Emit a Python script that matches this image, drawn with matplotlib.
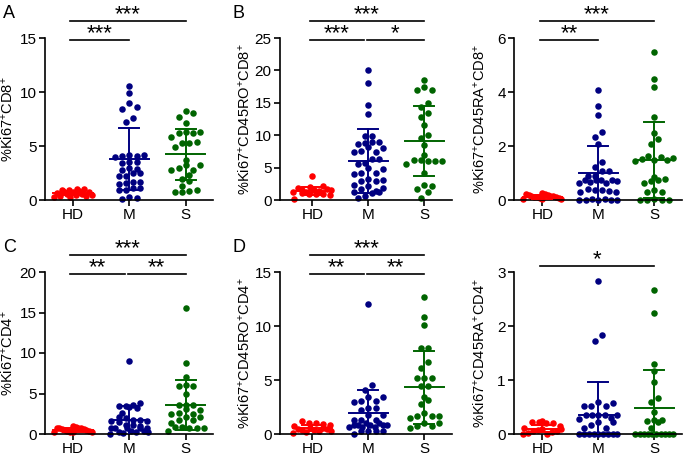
import numpy as np
import matplotlib
matplotlib.use("Agg")
from matplotlib import pyplot as plt

plt.rcParams['font.family'] = ['Liberation Sans', 'DejaVu Sans']
plt.rcParams['mathtext.fontset'] = 'custom'
plt.rcParams['mathtext.rm'] = 'Liberation Sans'
plt.rcParams['mathtext.default'] = 'regular'

groups = ['HD', 'M', 'S']
colors = ['#ff0000', '#000080', '#006400']

# panel A: %Ki67+CD8+
hd_a = [1.0, 1.0, 0.9, 0.9, 0.8, 0.8, 0.7, 0.7, 0.65, 0.6, 0.6, 0.5, 0.5, 0.4, 0.4, 0.3, 0.25]
m_a = [10.6, 9.9, 8.95, 8.6, 8.4, 7.6, 7.2, 4.2, 4.2, 4.1, 4.1, 4.0, 3.5, 3.5, 3.4, 3.0, 2.9,
       2.8, 2.5, 2.5, 2.2, 2.2, 1.7, 1.7, 1.6, 1.5, 1.1, 1.1, 0.9, 0.9, 0.3, 0.2, 0.1]
s_a = [8.2, 8.1, 7.7, 7.1, 6.3, 6.3, 6.2, 6.2, 5.8, 5.4, 5.3, 5.3, 4.9, 3.7, 3.2, 3.2, 3.0,
       2.8, 2.8, 2.3, 1.9, 1.8, 1.3, 0.9, 0.8, 0.7, 0.7]
mean_a = [0.65, 3.8, 4.23]
sd_a = [0.2, 2.9, 2.38]

# panel B: %Ki67+CD45RO+CD8+
hd_b = [3.7, 2.1, 2.0, 1.8, 1.7, 1.6, 1.5, 1.5, 1.4, 1.3, 1.2, 1.1, 1.0, 1.0, 0.9, 0.8, 0.2]
m_b = [20.1, 18.0, 14.7, 13.2, 9.9, 9.8, 8.9, 8.9, 8.8, 8.7, 8.2, 8.1, 7.5, 7.4, 7.4, 6.4,
       6.3, 5.7, 5.6, 4.9, 4.8, 4.1, 4.1, 4.0, 3.2, 3.1, 3.0, 3.0, 2.3, 2.2, 1.8, 1.7, 1.4,
       1.3, 1.2, 1.1, 0.6, 0.3]
s_b = [18.5, 17.4, 17.0, 16.9, 15.0, 14.4, 13.5, 12.8, 11.6, 10.0, 9.5, 8.5, 7.0, 6.2, 6.1,
       6.0, 6.0, 6.0, 5.5, 4.1, 2.3, 2.2, 1.7, 1.2, 0.35]
mean_b = [1.4, 6.0, 9.1]
sd_b = [0.6, 4.95, 5.45]

# panel B right: %Ki67+CD45RA+CD8+
hd_b2 = [0.25, 0.24, 0.22, 0.2, 0.18, 0.16, 0.15, 0.14, 0.12, 0.1, 0.1, 0.08, 0.06, 0.05,
         0.04, 0.02]
m_b2 = [4.07, 3.5, 3.15, 2.53, 2.35, 2.06, 1.42, 1.23, 1.07, 1.07, 0.9, 0.9, 0.75, 0.75,
        0.74, 0.73, 0.72, 0.65, 0.64, 0.62, 0.4, 0.38, 0.37, 0.35, 0.3, 0.28, 0.02, 0.02,
        0.01, 0.01, 0.0, 0.0, 0.0]
s_b2 = [5.5, 4.47, 4.2, 3.08, 2.5, 2.26, 2.06, 1.62, 1.6, 1.55, 1.52, 1.5, 1.5, 1.45, 0.86,
        0.76, 0.74, 0.72, 0.62, 0.37, 0.3, 0.28, 0.02, 0.01, 0.0, 0.0, 0.0]
mean_b2 = [0.12, 0.99, 1.48]
sd_b2 = [0.07, 1.0, 1.42]

# panel C: %Ki67+CD4+
hd_c = [1.0, 0.9, 0.8, 0.8, 0.7, 0.7, 0.6, 0.6, 0.5, 0.5, 0.4, 0.4, 0.3, 0.3, 0.2, 0.2]
m_c = [9.05, 3.8, 3.6, 3.4, 3.4, 3.3, 3.2, 2.6, 2.1, 2.0, 1.7, 1.7, 1.6, 1.6, 1.5, 1.1, 1.1,
       1.0, 0.8, 0.8, 0.7, 0.7, 0.7, 0.4, 0.35, 0.3, 0.3, 0.2, 0.1, 0.05]
s_c = [15.5, 8.8, 7.0, 6.1, 5.9, 5.9, 5.0, 3.6, 3.6, 3.6, 3.1, 3.0, 2.6, 2.5, 2.5, 2.1, 2.1,
       1.7, 1.7, 1.4, 0.9, 0.85, 0.8, 0.8, 0.8, 0.4]
mean_c = [0.5, 1.7, 3.55]
sd_c = [0.25, 1.7, 3.1]

# panel D: %Ki67+CD45RO+CD4+
hd_d = [1.2, 1.0, 1.0, 0.9, 0.8, 0.7, 0.6, 0.6, 0.5, 0.5, 0.4, 0.4, 0.3, 0.3, 0.2, 0.1]
m_d = [12.0, 4.5, 4.1, 3.45, 3.45, 3.05, 3.05, 3.0, 2.4, 2.4, 2.2, 1.75, 1.75, 1.3, 1.3, 1.3,
       1.05, 1.05, 0.83, 0.83, 0.83, 0.83, 0.83, 0.62, 0.62, 0.62, 0.3, 0.3, 0.3, 0.3, 0.0]
s_d = [12.7, 10.85, 10.1, 8.0, 8.0, 6.7, 6.15, 5.15, 5.15, 5.2, 4.4, 4.4, 3.4, 3.15, 2.75,
       1.97, 1.67, 1.67, 1.67, 1.45, 1.05, 1.05, 0.74, 0.74, 0.6]
mean_d = [0.55, 1.92, 4.32]
sd_d = [0.3, 2.2, 3.4]

# panel D right: %Ki67+CD45RA+CD4+
hd_d2 = [0.25, 0.23, 0.22, 0.2, 0.2, 0.15, 0.12, 0.1, 0.1, 0.08, 0.06, 0.05, 0.03, 0.02,
         0.0, 0.0]
m_d2 = [2.83, 1.83, 1.72, 0.6, 0.57, 0.52, 0.52, 0.52, 0.35, 0.35, 0.35, 0.35, 0.35, 0.29,
        0.27, 0.22, 0.22, 0.16, 0.12, 0.12, 0.0, 0.0, 0.0, 0.0, 0.0, 0.0, 0.0, 0.0, 0.0]
s_d2 = [2.67, 2.25, 1.29, 1.17, 0.96, 0.67, 0.59, 0.4, 0.26, 0.26, 0.24, 0.22, 0.12, 0.0,
        0.0, 0.0, 0.0, 0.0, 0.0, 0.0, 0.0, 0.0, 0.0]
mean_d2 = [0.1, 0.36, 0.48]
sd_d2 = [0.07, 0.61, 0.71]

ylabels = ['%Ki67$^{+}$CD8$^{+}$', '%Ki67$^{+}$CD45RO$^{+}$CD8$^{+}$',
           '%Ki67$^{+}$CD45RA$^{+}$CD8$^{+}$', '%Ki67$^{+}$CD4$^{+}$',
           '%Ki67$^{+}$CD45RO$^{+}$CD4$^{+}$', '%Ki67$^{+}$CD45RA$^{+}$CD4$^{+}$']
yticks = [[0, 5, 10, 15], [0, 5, 10, 15, 20, 25], [0, 2, 4, 6],
          [0, 5, 10, 15, 20], [0, 5, 10, 15], [0, 1, 2, 3]]
# (group i, group j, level, label)
sigs = [[(0, 1, 0, '***'), (0, 2, 1, '***')],
        [(0, 1, 0, '***'), (1, 2, 0, '*'), (0, 2, 1, '***')],
        [(0, 1, 0, '**'), (0, 2, 1, '***')],
        [(0, 1, 0, '**'), (1, 2, 0, '**'), (0, 2, 1, '***')],
        [(0, 1, 0, '**'), (1, 2, 0, '**'), (0, 2, 1, '***')],
        [(0, 2, 0.4, '*')]]
letters = ['A', 'B', '', 'C', 'D', '']

data = [(hd_a, m_a, s_a), (hd_b, m_b, s_b), (hd_b2, m_b2, s_b2),
        (hd_c, m_c, s_c), (hd_d, m_d, s_d), (hd_d2, m_d2, s_d2)]
means = [mean_a, mean_b, mean_b2, mean_c, mean_d, mean_d2]
sds = [sd_a, sd_b, sd_b2, sd_c, sd_d, sd_d2]


def swarm(vals, ppu, diam=6.0, step=7.2, maxhalf=19.0):
    # prism-like rows: bin by pixel height, spread each row around the centre
    vals = np.asarray(vals, float)
    order = np.argsort(vals, kind='stable')
    offs = np.zeros(len(vals))
    rows = []
    start = None
    for k in order:
        y = vals[k] * ppu
        if start is None or y - start > diam:
            rows.append([])
            start = y
        rows[-1].append(k)
    for row in rows:
        n = len(row)
        if n == 1:
            continue
        st = min(step, 2 * maxhalf / (n - 1))
        stride = next(s for s in (5, 3, 7, 2, 1) if np.gcd(s, n) == 1)
        for q, k in enumerate(row):
            pos = (q * stride) % n
            offs[k] = (pos - (n - 1) / 2) * st
    return offs


fig = plt.figure(figsize=(6.85, 4.59), dpi=100)
W, H = 685, 459
lefts = [45, 280, 514]
rights = [213, 452, 682]
hd_px = [72.9, 312.3, 542.3]
spacing = [56.4, 56, 56]
tops = [38, 272]
bottoms = [200, 434]
label_x = [16, 253, 488]
letter_x = [3, 232]

for p in range(6):
    r, c = divmod(p, 3)
    l, rt, t, b = lefts[c], rights[c], tops[r], bottoms[r]
    ax = fig.add_axes([l / W, 1 - b / H, (rt - l) / W, (b - t) / H])
    xmin = -(hd_px[c] - l) / spacing[c]
    xmax = (rt - hd_px[c]) / spacing[c]
    ymax = yticks[p][-1]
    ppu = (b - t) / ymax
    for g in range(3):
        vals = data[p][g]
        xo = swarm(vals, ppu) / spacing[c]
        ax.scatter(g + xo, vals, s=22, color=colors[g], linewidths=0,
                   zorder=2, clip_on=False)
        m, sd = means[p][g], sds[p][g]
        ax.plot([g - 0.35, g + 0.35], [m, m], color=colors[g], lw=1.4, zorder=3)
        lo = max(m - sd, 0)
        ax.plot([g, g], [lo, m + sd], color=colors[g], lw=1.4, zorder=3)
        ax.plot([g - 0.18, g + 0.18], [m + sd, m + sd], color=colors[g], lw=1.4, zorder=3)
        if m - sd > 0:
            ax.plot([g - 0.18, g + 0.18], [lo, lo], color=colors[g], lw=1.4, zorder=3)
    ax.set_xlim(xmin, xmax)
    ax.set_ylim(0, ymax)
    ax.set_yticks(yticks[p])
    ax.set_xticks(range(3))
    ax.set_xticklabels(groups)
    for sp in ['top', 'right']:
        ax.spines[sp].set_visible(False)
    for sp in ['left', 'bottom']:
        ax.spines[sp].set_linewidth(1.2)
    ax.tick_params(direction='out', length=4, width=1.2, labelsize=11, pad=2)
    ax.set_ylabel(ylabels[p], fontsize=10.5)
    ax.yaxis.set_label_coords((label_x[c] - l) / (rt - l), 0.5)

    # significance bars
    trans = ax.get_xaxis_transform()
    for (i, j, lev, txt) in sigs[p]:
        y = 0.99 + lev * 0.118
        x0, x1 = i, j
        if lev == 0 and any(s[2] == 0 and s != (i, j, lev, txt) for s in sigs[p]):
            if i == 0:
                x1 = j - 0.08
            else:
                x0 = i + 0.02
        ax.plot([x0 - 0.05, x1], [y, y], color='black', lw=1.2, transform=trans,
                clip_on=False)
        ax.annotate(txt, ((x0 - 0.05 + x1) / 2, y), xycoords=trans,
                    xytext=(0, 0.5), textcoords='offset points',
                    ha='center', va='baseline', fontsize=16, annotation_clip=False)

    if letters[p]:
        fig.text(letter_x[c] / W, 1 - (t - 33) / H, letters[p],
                 fontsize=13, ha='left', va='top')

fig.savefig('out.png', dpi=100)
